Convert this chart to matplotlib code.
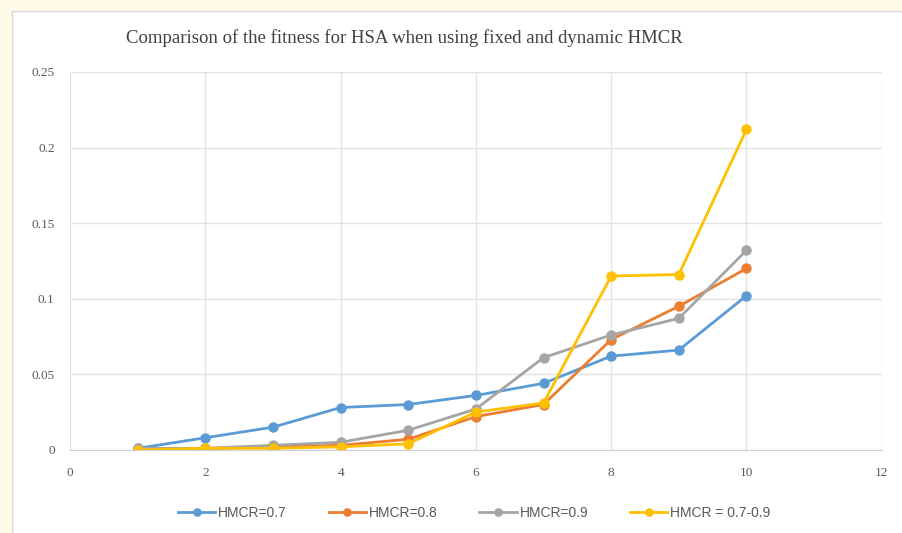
import matplotlib.pyplot as plt
from matplotlib.patches import Rectangle

iterations = [1, 2, 3, 4, 5, 6, 7, 8, 9, 10]
hmcr_07 = [0.001, 0.008, 0.015, 0.028, 0.030, 0.036, 0.044, 0.062, 0.066, 0.102]
hmcr_08 = [0.000, 0.001, 0.002, 0.003, 0.007, 0.022, 0.030, 0.073, 0.095, 0.120]
hmcr_09 = [0.001, 0.001, 0.003, 0.005, 0.013, 0.027, 0.061, 0.076, 0.087, 0.132]
hmcr_dyn = [0.000, 0.001, 0.001, 0.002, 0.004, 0.025, 0.031, 0.115, 0.116, 0.212]

series = [
    ("HMCR=0.7", hmcr_07, "#5B9BD5"),
    ("HMCR=0.8", hmcr_08, "#ED7D31"),
    ("HMCR=0.9", hmcr_09, "#A5A5A5"),
    ("HMCR = 0.7-0.9", hmcr_dyn, "#FFC000"),
]

fig = plt.figure(figsize=(9.03, 5.33), dpi=100)
fig.patch.set_facecolor("#fffbe6")
# white chart frame behind the axes
frame = Rectangle((0.013, -0.01), 0.99, 0.99, transform=fig.transFigure,
                  facecolor="white", edgecolor="#d9d9d9", lw=1, zorder=-5)
fig.patches.append(frame)

ax = fig.add_axes([0.0775, 0.156, 0.899, 0.709])
ax.set_zorder(1)
ax.set_facecolor("white")
for name, vals, col in series:
    ax.plot(iterations, vals, color=col, lw=2, marker="o", markersize=6.5, label=name)

ax.set_xlim(0, 12)
ax.set_ylim(0, 0.25)
ax.set_xticks(range(0, 13, 2))
ax.set_yticks([0, 0.05, 0.1, 0.15, 0.2, 0.25])
ax.set_yticklabels(["0", "0.05", "0.1", "0.15", "0.2", "0.25"])
ax.grid(True, color="#e3e3e3", lw=1)
ax.set_axisbelow(True)
for s in ["top", "right", "left"]:
    ax.spines[s].set_visible(False)
ax.spines["bottom"].set_color("#d0d0d0")
ax.tick_params(length=0, colors="#595959", labelsize=9.5)
ax.tick_params(axis="y", pad=11)
ax.tick_params(axis="x", pad=12)
for lbl in ax.get_xticklabels() + ax.get_yticklabels():
    lbl.set_fontfamily("Liberation Serif")

fig.text(0.448, 0.928, "Comparison of the fitness for HSA when using fixed and dynamic HMCR",
         ha="center", va="center", fontsize=13.5, family="Liberation Serif", color="#404040")

fig.legend(loc="center", bbox_to_anchor=(0.525, 0.038), ncol=4, frameon=False,
           prop={"family": "Liberation Sans", "size": 10},
           handlelength=2.7, columnspacing=3.0, handletextpad=0.2,
           markerscale=0.8, labelcolor="#595959")

fig.savefig("out.png", dpi=100)
